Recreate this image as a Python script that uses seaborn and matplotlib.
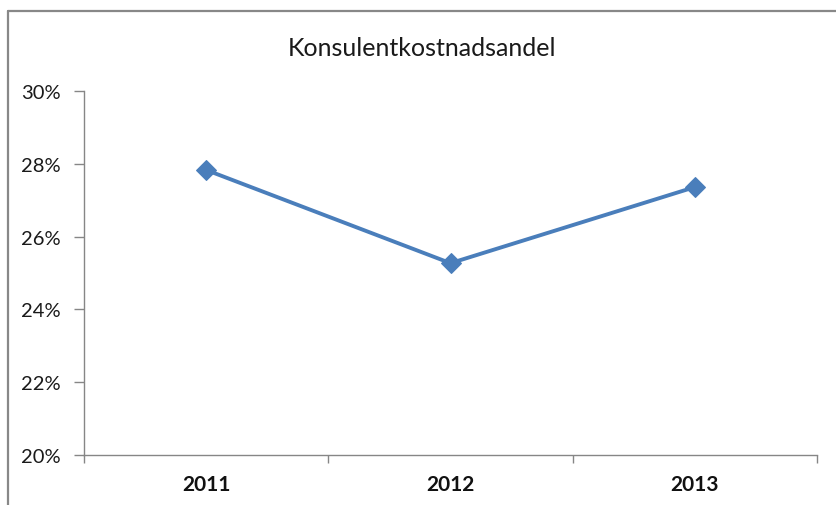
import matplotlib
matplotlib.use("Agg")
import matplotlib.pyplot as plt
import seaborn as sns
import pandas as pd
from matplotlib.ticker import PercentFormatter, FixedLocator
from matplotlib.lines import Line2D

years = ["2011", "2012", "2013"]
shares = [0.2783, 0.2527, 0.2736]
title = "Konsulentkostnadsandel"
y_ticks = [0.20, 0.22, 0.24, 0.26, 0.28, 0.30]

sns.set_theme(style="white")
plt.rcParams["font.family"] = ["Lato", "DejaVu Sans"]

df = pd.DataFrame({"year": years, "share": shares})

W, H = 836, 506
fig = plt.figure(figsize=(W / 100, H / 100), dpi=100)
fig.patch.set_facecolor("white")
ax = fig.add_axes([84 / W, 1 - 456 / H, (817 - 84) / W, (456 - 92) / H])

line_color = "#4A7EBB"
sns.lineplot(data=df, x="year", y="share", ax=ax, color=line_color,
             linewidth=2.8, marker="D", markersize=10.5,
             markeredgecolor=line_color, markerfacecolor=line_color, sort=False)

ax.set_xlim(-0.5, 2.5)
ax.set_ylim(0.20, 0.30)
ax.set_yticks(y_ticks)
ax.yaxis.set_major_formatter(PercentFormatter(1.0, decimals=0))
ax.set_xlabel("")
ax.set_ylabel("")

ax.set_xticks(range(len(years)))
ax.set_xticklabels(years, fontweight="bold", fontsize=15, color="#111111")
ax.xaxis.set_minor_locator(FixedLocator([-0.5, 0.5, 1.5, 2.5]))
ax.tick_params(axis="x", which="major", length=0, pad=14)
ax.tick_params(axis="x", which="minor", length=6, width=1, color="#868686",
               direction="out", bottom=True)
ax.tick_params(axis="y", which="major", length=7, width=1, color="#868686",
               direction="out", left=True, labelsize=14.5, labelcolor="#1a1a1a", pad=10)

for s in ["top", "right"]:
    ax.spines[s].set_visible(False)
for s in ["left", "bottom"]:
    ax.spines[s].set_color("#868686")
    ax.spines[s].set_linewidth(1)

fig.text(422 / W, 1 - 48 / H, title, ha="center", va="center",
         fontsize=18, color="#1a1a1a")

# chart frame border (left and top visible)
border = "#888888"
fig.add_artist(Line2D([8 / W, 8 / W], [0, 1 - 12 / H], transform=fig.transFigure,
                      color=border, linewidth=1.6))
fig.add_artist(Line2D([8 / W, 1], [1 - 12 / H, 1 - 12 / H], transform=fig.transFigure,
                      color=border, linewidth=1.6))

fig.savefig("out.png", dpi=100, facecolor="white")
